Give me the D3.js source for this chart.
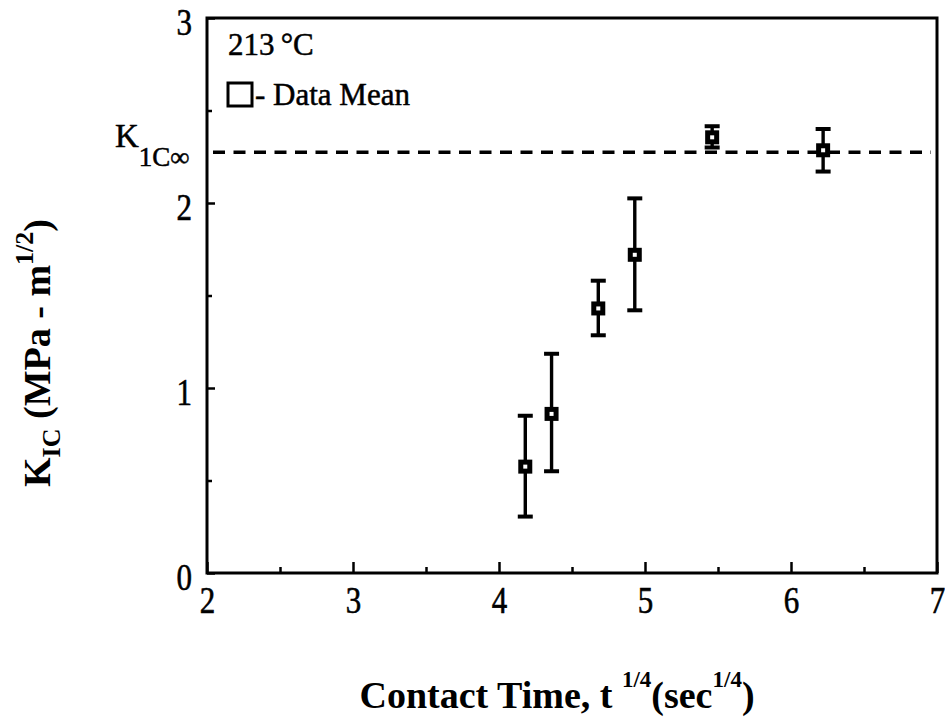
<!DOCTYPE html>
<html><head><meta charset="utf-8">
<script src="https://cdn.jsdelivr.net/npm/d3@7"></script>
<style>
body{margin:0;background:#fff;}
svg{display:block;}
svg text{font-family:"Liberation Serif","Times New Roman",Times,"DejaVu Serif",serif;fill:#000;}
svg text.reg{stroke:#000;stroke-width:0.5px;}
</style></head>
<body><svg id="c" width="945" height="721"></svg>
<script>
// ---- data ----
const xs     = [4.18, 4.36, 4.68, 4.93, 5.46, 6.22];
const means  = [0.575, 0.86, 1.43, 1.72, 2.355, 2.285];
const upper  = [0.85, 1.185, 1.58, 2.025, 2.415, 2.40];
const lower  = [0.305, 0.55, 1.285, 1.42, 2.30, 2.17];
const kInf   = 2.275;
const xTicks = [2, 3, 4, 5, 6, 7];
const xMinor = [2.5, 3.5, 4.5, 5.5, 6.5];
const yTicks = [0, 1, 2, 3];
const yMinor = [0.5, 1.5, 2.5];

const svg = d3.select("#c");
const L = 207, R = 937, T = 18, B = 573;
const x = d3.scaleLinear().domain([2, 7]).range([L, R]);
const y = d3.scaleLinear().domain([0, 3]).range([B, T]);
const SY = 1.2; // vertical stretch of the scanned tick digits

function styleAxis(g){
  g.attr("font-family",null);
  g.select(".domain").remove();
  g.selectAll(".tick line").attr("stroke","#000").attr("stroke-width",2.5);
  g.selectAll(".tick text").attr("fill","#000").attr("class","reg");
}

// x axis
svg.append("g").attr("transform",`translate(0,${B})`)
  .call(d3.axisBottom(x).tickValues(xTicks).tickSize(-11).tickFormat(d3.format("d")))
  .call(styleAxis)
  .call(g=>g.selectAll("text").attr("font-size",31).attr("y",40/SY).attr("dy",0)
    .attr("transform",`scale(1,${SY})`));
svg.append("g").attr("transform",`translate(0,${B})`)
  .call(d3.axisBottom(x).tickValues(xMinor).tickSize(-6).tickFormat(""))
  .call(styleAxis);

// y axis
svg.append("g").attr("transform",`translate(${L},0)`)
  .call(d3.axisLeft(y).tickValues(yTicks).tickSize(-8).tickPadding(15).tickFormat(d3.format("d")))
  .call(styleAxis)
  .call(g=>g.selectAll("text").attr("font-size",31).attr("dy",16/SY)
    .attr("transform",`scale(1,${SY})`));
svg.append("g").attr("transform",`translate(${L},0)`)
  .call(d3.axisLeft(y).tickValues(yMinor).tickSize(-5).tickFormat(""))
  .call(styleAxis);

// frame
svg.append("rect").attr("x",L).attr("y",T).attr("width",R-L).attr("height",B-T)
  .attr("fill","none").attr("stroke","#000").attr("stroke-width",3);

// K1C infinity dashed line
svg.append("line").attr("x1",L+6).attr("x2",R-6).attr("y1",y(kInf)).attr("y2",y(kInf))
  .attr("stroke","#000").attr("stroke-width",3.5).attr("stroke-dasharray","12,8.5");

const kl = svg.append("text").attr("class","reg").attr("x",115).attr("y",147).attr("font-size",33);
kl.append("tspan").text("K");
kl.append("tspan").attr("dy",19).attr("font-size",27).text("1C\u221E");

// error bars
const pts = xs.map((d,i)=>({x:d,m:means[i],u:upper[i],l:lower[i]}));
const eb = svg.append("g").attr("stroke","#000");
eb.selectAll("line.stem").data(pts).join("line").attr("class","stem")
  .attr("x1",d=>x(d.x)).attr("x2",d=>x(d.x)).attr("y1",d=>y(d.u)).attr("y2",d=>y(d.l)).attr("stroke-width",3.4);
eb.selectAll("line.capu").data(pts).join("line").attr("class","capu")
  .attr("x1",d=>x(d.x)-7.5).attr("x2",d=>x(d.x)+7.5).attr("y1",d=>y(d.u)).attr("y2",d=>y(d.u)).attr("stroke-width",4);
eb.selectAll("line.capl").data(pts).join("line").attr("class","capl")
  .attr("x1",d=>x(d.x)-7.5).attr("x2",d=>x(d.x)+7.5).attr("y1",d=>y(d.l)).attr("y2",d=>y(d.l)).attr("stroke-width",4);
// markers
svg.append("g").selectAll("rect").data(pts).join("rect")
  .attr("x",d=>x(d.x)-4.5).attr("y",d=>y(d.m)-4.5).attr("width",9).attr("height",9)
  .attr("fill","#fff").attr("stroke","#000").attr("stroke-width",5);

// annotations
svg.append("text").attr("class","reg").attr("x",228).attr("y",55).attr("font-size",31).text("213\u2009\u00B0C");
svg.append("rect").attr("x",228).attr("y",83).attr("width",24).attr("height",23)
  .attr("fill","none").attr("stroke","#000").attr("stroke-width",3);
svg.append("text").attr("class","reg").attr("x",255).attr("y",105).attr("font-size",31).text("- Data Mean");

// y label
const yl = svg.append("text").attr("transform","translate(50,353) rotate(-90)")
  .attr("text-anchor","middle").attr("font-size",38).attr("font-weight","bold");
yl.append("tspan").text("K");
yl.append("tspan").attr("dy",10).attr("font-size",26).text("IC");
yl.append("tspan").attr("dy",-10).text(" (MPa - m");
yl.append("tspan").attr("dy",-17).attr("font-size",26).text("1/2");
yl.append("tspan").attr("dy",17).text(")");

// x label
const xl = svg.append("text").attr("x",557).attr("y",708)
  .attr("text-anchor","middle").attr("font-size",38).attr("font-weight","bold");
xl.append("tspan").text("Contact Time, t ");
xl.append("tspan").attr("dy",-21).attr("font-size",23).text("1/4");
xl.append("tspan").attr("dy",21).text("(sec");
xl.append("tspan").attr("dy",-21).attr("font-size",23).text("1/4");
xl.append("tspan").attr("dy",21).text(")");
</script></body></html>
